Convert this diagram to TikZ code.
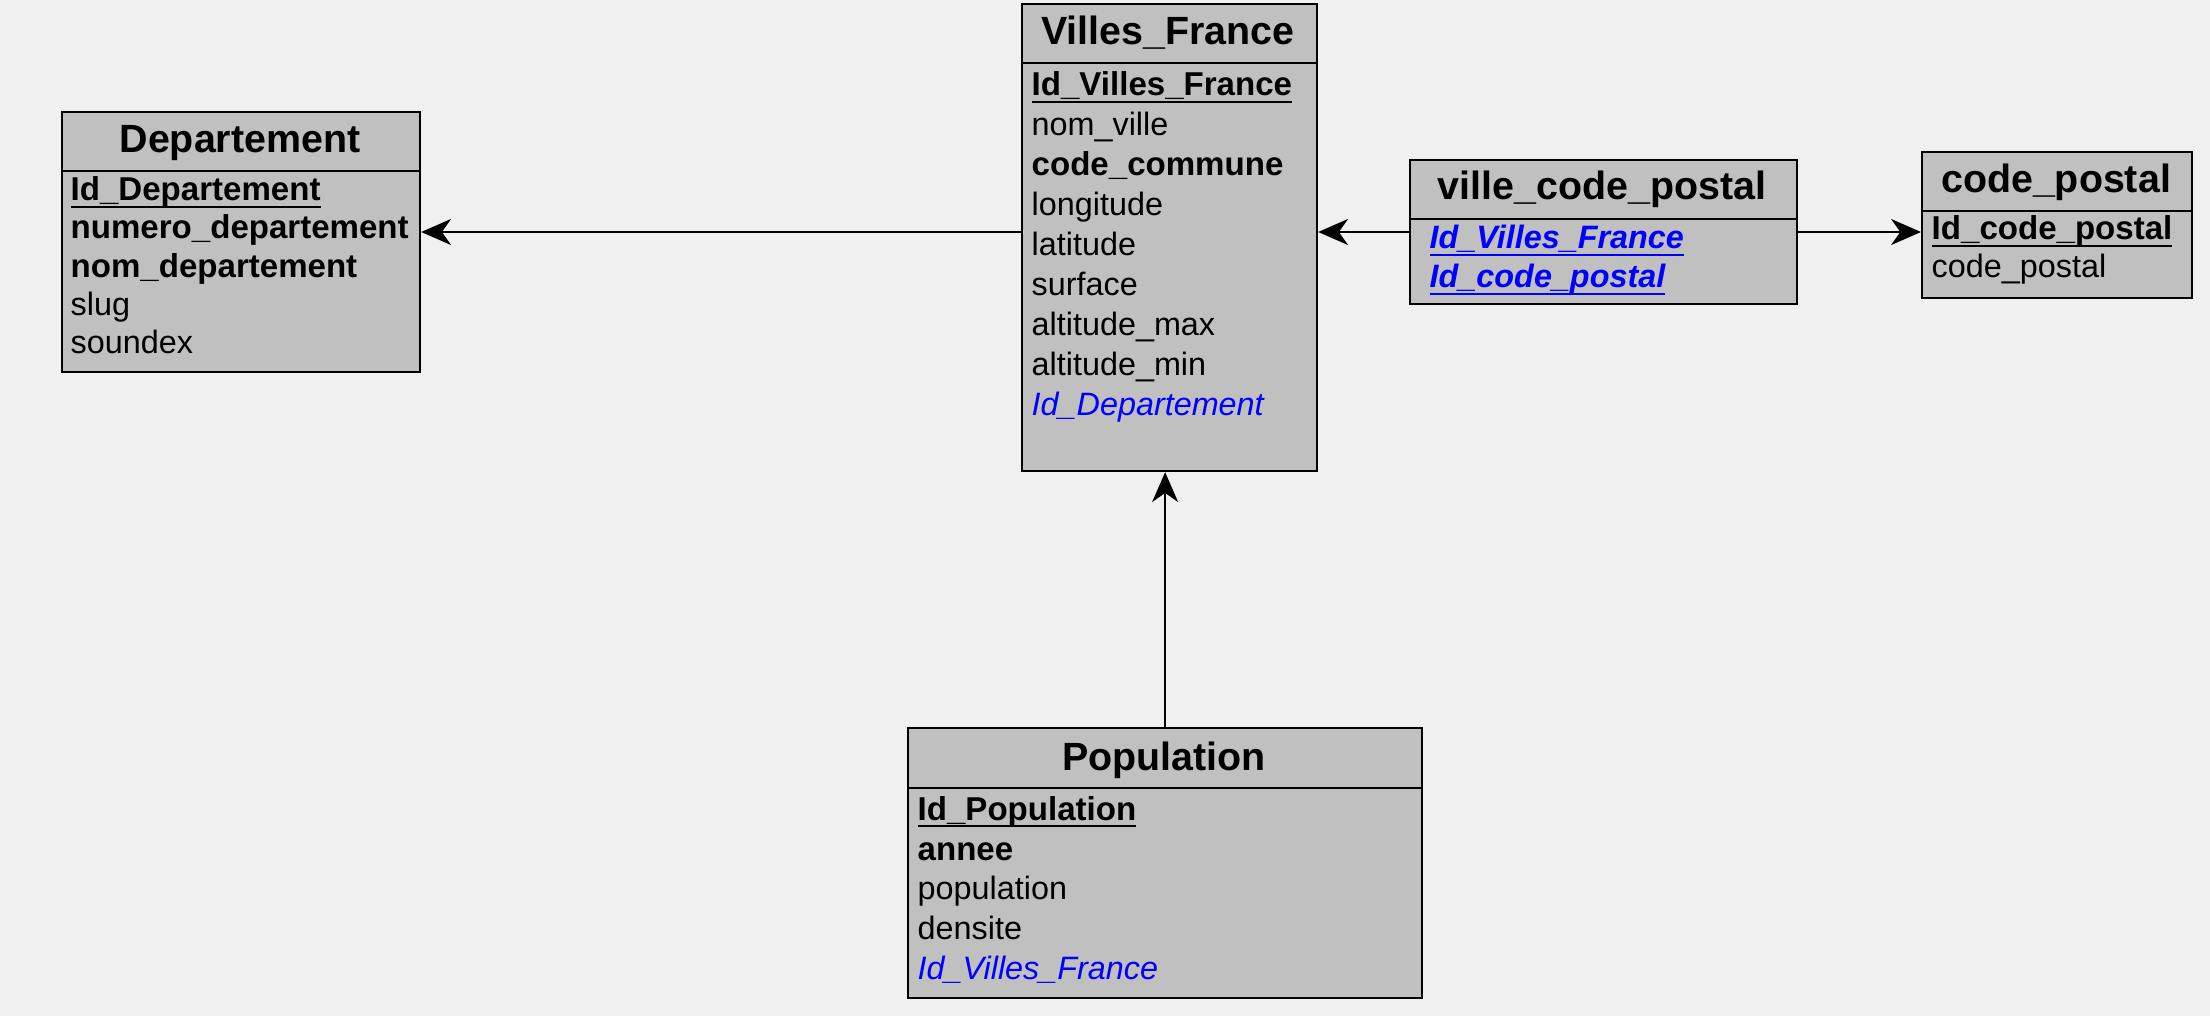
\documentclass[tikz,border=0pt]{standalone}
\usepackage{fontspec}
\setmainfont{Liberation Sans}
\usetikzlibrary{arrows.meta}
\definecolor{fond}{RGB}{240,240,240}
\definecolor{gristable}{RGB}{192,192,192}
\definecolor{cle}{RGB}{0,0,255}
\newcommand{\souligne}[1]{\setbox0\hbox{#1}\rlap{\vrule width\wd0 height -1.45pt depth 2pt}\box0}
\newcommand{\champfont}{\fontsize{9.2}{11}\selectfont}
\newcommand{\grasfont}{\fontsize{9.4}{11}\selectfont\bfseries}
\newcommand{\titrefont}{\fontsize{11.2}{13}\selectfont\bfseries}

\begin{document}
\begin{tikzpicture}[x=0.01cm,y=-0.01cm]
\tikzset{table/.style={draw,fill=gristable,line width=0.55pt,anchor=north west,inner sep=0pt},
    titre/.style={anchor=base,inner sep=0pt,font=\titrefont},
    champ/.style={anchor=base west,inner sep=0pt,font=\champfont},
    pk/.style={champ,font=\grasfont},
    fk/.style={champ,font=\champfont\itshape,text=cle},
    pfk/.style={champ,font=\champfont\bfseries\itshape,text=cle},
    lien/.style={line width=0.5pt,-{Stealth[length=8.5pt,width=7.4pt,inset=2.6pt]}}}
\fill[fond] (0,0) rectangle (2210,1016);
\useasboundingbox (0,0) rectangle (2210,1016);
\node[table,minimum width=3.58cm,minimum height=2.6cm] (dep) at (61,111) {};
\draw[line width=0.55pt] (dep.west |- 0,171) -- (dep.east |- 0,171);
\node[titre] (dep-t) at (240,153) {Departement};
\node[pk] (dep-1) at (70,201) {\souligne{Id\_Departement}};
\node[pk] (dep-2) at (70,239) {numero\_departement};
\node[pk] (dep-3) at (70,278) {nom\_departement};
\node[champ] (dep-4) at (70,316) {slug};
\node[champ] (dep-5) at (70,354) {soundex};
\node[table,minimum width=2.95cm,minimum height=4.67cm] (villes) at (1021,3) {};
\draw[line width=0.55pt] (villes.west |- 0,63) -- (villes.east |- 0,63);
\node[titre] (villes-t) at (1168,45) {Villes\_France};
\node[pk] (villes-1) at (1031,96) {\souligne{Id\_Villes\_France}};
\node[champ] (villes-2) at (1031,136) {nom\_ville};
\node[pk] (villes-3) at (1031,176) {code\_commune};
\node[champ] (villes-4) at (1031,216) {longitude};
\node[champ] (villes-5) at (1031,256) {latitude};
\node[champ] (villes-6) at (1031,296) {surface};
\node[champ] (villes-7) at (1031,336) {altitude\_max};
\node[champ] (villes-8) at (1031,376) {altitude\_min};
\node[fk] (villes-9) at (1031,416) {Id\_Departement};
\node[table,minimum width=3.87cm,minimum height=1.44cm] (vcp) at (1409,159) {};
\draw[line width=0.55pt] (vcp.west |- 0,219) -- (vcp.east |- 0,219);
\node[titre] (vcp-t) at (1602,200) {ville\_code\_postal};
\node[pfk] (vcp-1) at (1429,249) {\souligne{Id\_Villes\_France}};
\node[pfk] (vcp-2) at (1429,288) {\souligne{Id\_code\_postal}};
\node[table,minimum width=2.70cm,minimum height=1.46cm] (cp) at (1921,151) {};
\draw[line width=0.55pt] (cp.west |- 0,211) -- (cp.east |- 0,211);
\node[titre] (cp-t) at (2056,193) {code\_postal};
\node[pk] (cp-1) at (1931,240) {\souligne{Id\_code\_postal}};
\node[champ] (cp-2) at (1931,278) {code\_postal};
\node[table,minimum width=5.14cm,minimum height=2.70cm] (pop) at (907,727) {};
\draw[line width=0.55pt] (pop.west |- 0,788) -- (pop.east |- 0,788);
\node[titre] (pop-t) at (1164,770) {Population};
\node[pk] (pop-1) at (917,820) {\souligne{Id\_Population}};
\node[pk] (pop-2) at (917,860) {annee};
\node[champ] (pop-3) at (917,899) {population};
\node[champ] (pop-4) at (917,939) {densite};
\node[fk] (pop-5) at (917,979) {Id\_Villes\_France};
\draw[lien] (villes.west |- vcp.west) -- (dep.east |- vcp.west);
\draw[lien] (vcp.west) -- (villes.east |- vcp.west);
\draw[lien] (vcp.east) -- (cp.west |- vcp.east);
\draw[lien] (pop.north) -- (villes.south -| pop.north);
\end{tikzpicture}
\end{document}
